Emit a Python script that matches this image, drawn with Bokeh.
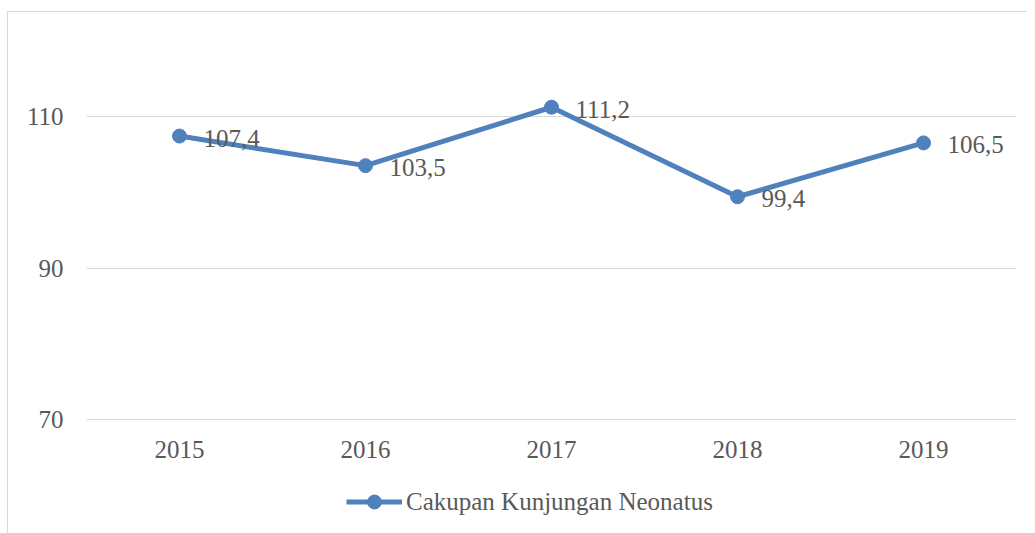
from bokeh.plotting import figure
from bokeh.layouts import column
from bokeh.models import ColumnDataSource, FixedTicker, Legend, LegendItem, Range1d
from bokeh.core.properties import value as val
from bokeh.embed import file_html
from bokeh.resources import INLINE

years = ["2015", "2016", "2017", "2018", "2019"]
values = [107.4, 103.5, 111.2, 99.4, 106.5]
labels = [f"{v:.1f}".replace(".", ",") for v in values]
y_ticks = [70, 90, 110]
series_name = "Cakupan Kunjungan Neonatus"

FONT = "Liberation Serif"
TXT = "#595959"
BLUE = "#4F81BD"
GRID = "#D9D9D9"

src = ColumnDataSource(dict(year=years, value=values, label=labels))

p = figure(x_range=years, y_range=Range1d(69.9, 120), width=1019, height=458,
           output_backend="svg", toolbar_location=None,
           min_border_left=78, min_border_right=11, min_border_top=28, min_border_bottom=50)
p.outline_line_color = None
p.background_fill_color = "white"
p.border_fill_color = "white"

p.xgrid.grid_line_color = None
p.ygrid.grid_line_color = GRID
p.ygrid.grid_line_width = 1
p.yaxis.ticker = FixedTicker(ticks=y_ticks)

for ax in (p.xaxis[0], p.yaxis[0]):
    ax.axis_line_color = None
    ax.major_tick_line_color = None
    ax.minor_tick_line_color = None
    ax.major_tick_out = 0
    ax.major_tick_in = 0
    ax.major_label_text_font = FONT
    ax.major_label_text_font_size = "25px"
    ax.major_label_text_color = TXT
p.yaxis.major_label_standoff = 23
p.xaxis.major_label_standoff = 20

p.line("year", "value", source=src, line_color=BLUE, line_width=5)
p.scatter("year", "value", source=src, size=14, fill_color=BLUE, line_color=BLUE)

p.text("year", "value", text="label", source=src, x_offset=24, y_offset=2,
       text_align="left", text_baseline="middle", text_font=val(FONT),
       text_font_size="25px", text_color=TXT)

# legend strip below the chart (series drawn out of its view, only the legend shows)
p2 = figure(width=1019, height=63, x_range=p.x_range, y_range=Range1d(0, 1),
            output_backend="svg", toolbar_location=None, min_border=0)
p2.axis.visible = False
p2.grid.visible = False
p2.outline_line_color = None
lr = p2.line("year", "value", source=src, line_color=BLUE, line_width=5)
sr = p2.scatter("year", "value", source=src, size=14, fill_color=BLUE, line_color=BLUE)
legend = Legend(items=[LegendItem(label=series_name, renderers=[lr, sr])],
                location=(260, 14), orientation="horizontal",
                glyph_width=56, glyph_height=35, label_standoff=4,
                padding=0, margin=0, spacing=0,
                border_line_color=None, background_fill_alpha=0,
                label_text_font=FONT, label_text_font_size="25px", label_text_color=TXT)
p2.add_layout(legend)

layout = column(p, p2, spacing=0)
layout.styles = {"border-top": "1px solid #D9D9D9", "border-left": "1px solid #D9D9D9",
                 "margin-top": "11px", "margin-left": "7px"}

open("out.html", "w").write(file_html(layout, INLINE))
